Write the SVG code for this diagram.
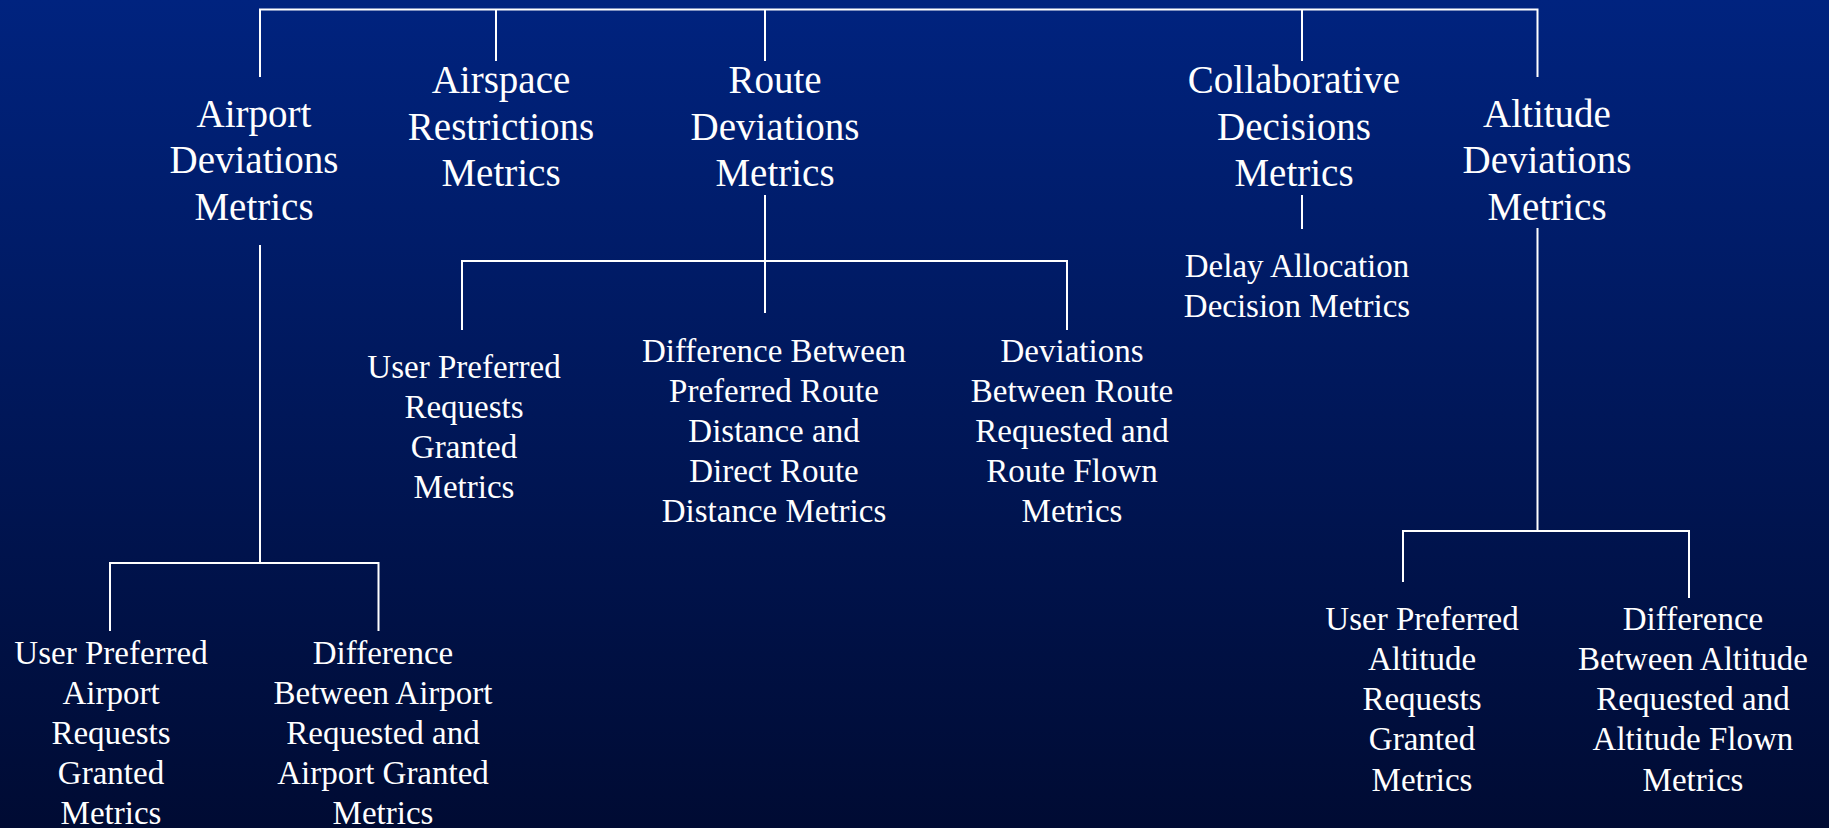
<svg xmlns="http://www.w3.org/2000/svg" width="1829" height="828" viewBox="0 0 1829 828">
<defs>
<linearGradient id="bg" x1="0" y1="0" x2="0" y2="1">
<stop offset="0" stop-color="#00237F"/>
<stop offset="1" stop-color="#000B33"/>
</linearGradient>
<style>
.l{stroke:#FFFFFF;stroke-width:2;fill:none}
.m{font-family:"Liberation Serif","Times New Roman",serif;font-size:39px;fill:#FFFFFF;text-anchor:middle}
.s{font-family:"Liberation Serif","Times New Roman",serif;font-size:33px;fill:#FFFFFF;text-anchor:middle}
</style>
</defs>
<rect x="0" y="0" width="1829" height="828" fill="url(#bg)"/>
<g id="connectors">
<polyline class="l" points="260,77 260,9.5 1537.5,9.5 1537.5,77"/>
<line class="l" x1="496" y1="9.5" x2="496" y2="61"/>
<line class="l" x1="765" y1="9.5" x2="765" y2="61"/>
<line class="l" x1="1302" y1="9.5" x2="1302" y2="61"/>
<line class="l" x1="260" y1="245" x2="260" y2="563"/>
<polyline class="l" points="110,631 110,563 378.5,563 378.5,631"/>
<line class="l" x1="765" y1="195" x2="765" y2="313"/>
<polyline class="l" points="462,330 462,261 1067,261 1067,330"/>
<line class="l" x1="1302" y1="195" x2="1302" y2="229"/>
<line class="l" x1="1537.5" y1="228" x2="1537.5" y2="531"/>
<polyline class="l" points="1403,582 1403,531 1689,531 1689,598"/>
</g>
<g id="airport">
<text class="m" x="254"><tspan x="254" y="126.7">Airport</tspan><tspan x="254" y="173.4">Deviations</tspan><tspan x="254" y="220">Metrics</tspan></text>
</g>
<g id="airspace">
<text class="m" x="501"><tspan x="501" y="93">Airspace</tspan><tspan x="501" y="139.5">Restrictions</tspan><tspan x="501" y="186">Metrics</tspan></text>
</g>
<g id="route">
<text class="m" x="775"><tspan x="775" y="93">Route</tspan><tspan x="775" y="139.5">Deviations</tspan><tspan x="775" y="186">Metrics</tspan></text>
</g>
<g id="collaborative">
<text class="m" x="1294"><tspan x="1294" y="93">Collaborative</tspan><tspan x="1294" y="139.5">Decisions</tspan><tspan x="1294" y="186">Metrics</tspan></text>
</g>
<g id="altitude">
<text class="m" x="1547"><tspan x="1547" y="126.7">Altitude</tspan><tspan x="1547" y="173.4">Deviations</tspan><tspan x="1547" y="220">Metrics</tspan></text>
</g>
<g id="airport-user">
<text class="s" x="111"><tspan x="111" y="664">User Preferred</tspan><tspan x="111" y="704">Airport</tspan><tspan x="111" y="744">Requests</tspan><tspan x="111" y="784">Granted</tspan><tspan x="111" y="824">Metrics</tspan></text>
</g>
<g id="airport-diff">
<text class="s" x="383"><tspan x="383" y="664">Difference</tspan><tspan x="383" y="704">Between Airport</tspan><tspan x="383" y="744">Requested and</tspan><tspan x="383" y="784">Airport Granted</tspan><tspan x="383" y="824">Metrics</tspan></text>
</g>
<g id="route-user">
<text class="s" x="464"><tspan x="464" y="377.5">User Preferred</tspan><tspan x="464" y="417.8">Requests</tspan><tspan x="464" y="458">Granted</tspan><tspan x="464" y="498.3">Metrics</tspan></text>
</g>
<g id="route-diff">
<text class="s" x="774"><tspan x="774" y="361.7">Difference Between</tspan><tspan x="774" y="401.8">Preferred Route</tspan><tspan x="774" y="441.9">Distance and</tspan><tspan x="774" y="482">Direct Route</tspan><tspan x="774" y="522">Distance Metrics</tspan></text>
</g>
<g id="route-dev">
<text class="s" x="1072"><tspan x="1072" y="361.7">Deviations</tspan><tspan x="1072" y="401.8">Between Route</tspan><tspan x="1072" y="441.9">Requested and</tspan><tspan x="1072" y="482">Route Flown</tspan><tspan x="1072" y="522">Metrics</tspan></text>
</g>
<g id="delay">
<text class="s" x="1297"><tspan x="1297" y="277.3">Delay Allocation</tspan><tspan x="1297" y="317.3">Decision Metrics</tspan></text>
</g>
<g id="altitude-user">
<text class="s" x="1422"><tspan x="1422" y="629.5">User Preferred</tspan><tspan x="1422" y="669.8">Altitude</tspan><tspan x="1422" y="710">Requests</tspan><tspan x="1422" y="750.3">Granted</tspan><tspan x="1422" y="790.6">Metrics</tspan></text>
</g>
<g id="altitude-diff">
<text class="s" x="1693"><tspan x="1693" y="629.5">Difference</tspan><tspan x="1693" y="669.8">Between Altitude</tspan><tspan x="1693" y="710">Requested and</tspan><tspan x="1693" y="750.3">Altitude Flown</tspan><tspan x="1693" y="790.6">Metrics</tspan></text>
</g>
</svg>
